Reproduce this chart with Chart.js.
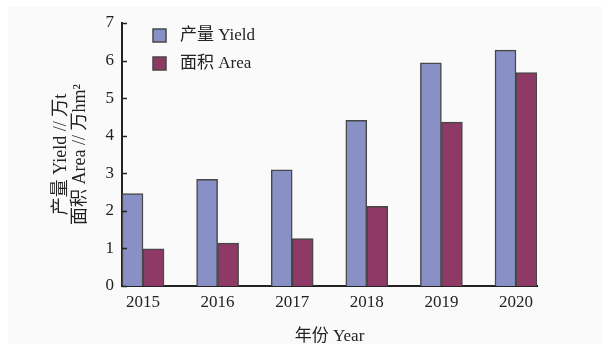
<!DOCTYPE html>
<html>
<head>
<meta charset="utf-8">
<script src="https://cdn.jsdelivr.net/npm/chart.js@4.4.1/dist/chart.umd.min.js"></script>
<style>
  html, body { margin: 0; padding: 0; background: #fff; }
  #wrap { position: relative; width: 608px; height: 344px; }
  #bg { position: absolute; left: 8px; top: 7px; width: 594px; height: 337px; background: #fafafa; }
  canvas { position: absolute; left: 0; top: 0; }
</style>
</head>
<body>
<div id="wrap">
  <div id="bg"></div>
  <canvas id="c" width="608" height="344"></canvas>
</div>
<script>
// dados
const years = [2015, 2016, 2017, 2018, 2019, 2020];
const yieldVals = [2.46, 2.84, 3.09, 4.41, 5.94, 6.28];
const areaVals = [0.99, 1.14, 1.26, 2.12, 4.36, 5.68];
const seriesLabels = ['产量 Yield', '面积 Area'];
const yTitle = ['产量 Yield // 万t', '面积 Area // 万hm²'];
const xTitle = '年份 Year';

const COLORS = {
  yield: '#8890c6',
  area: '#8e3966',
  edge: '#474747',
  axis: '#222',
  text: '#222',
};
const serif = '"Liberation Serif", "Noto Sans CJK SC", serif';

const toPoints = (vals) => vals.map((v, i) => ({ x: years[i], y: v }));

// legenda desenhada dentro da área do gráfico
const insideLegend = {
  id: 'insideLegend',
  afterDraw(chart) {
    const ctx = chart.ctx;
    ctx.save();
    ctx.font = '17px ' + serif;
    ctx.textBaseline = 'middle';
    chart.data.datasets.forEach((ds, i) => {
      const y = 29 + i * 28;
      ctx.fillStyle = ds.backgroundColor;
      ctx.fillRect(153, y, 13, 13);
      ctx.strokeStyle = COLORS.edge;
      ctx.lineWidth = 1.5;
      ctx.strokeRect(153, y, 13, 13);
      ctx.fillStyle = COLORS.text;
      ctx.fillText(ds.label, 180, y + 7);
    });
    ctx.restore();
  },
};

// marcas de tick viradas pra dentro no eixo y
const innerTicks = {
  id: 'innerTicks',
  afterDraw(chart) {
    const s = chart.scales.y;
    const ctx = chart.ctx;
    ctx.save();
    ctx.strokeStyle = COLORS.axis;
    ctx.lineWidth = 1.5;
    s.ticks.forEach(t => {
      const py = Math.round(s.getPixelForValue(t.value)) + 0.5;
      ctx.beginPath();
      ctx.moveTo(s.right, py);
      ctx.lineTo(s.right + 5, py);
      ctx.stroke();
    });
    ctx.restore();
  },
};

new Chart(document.getElementById('c'), {
  type: 'bar',
  data: {
    datasets: [
      {
        label: seriesLabels[0],
        data: toPoints(yieldVals),
        backgroundColor: COLORS.yield,
        borderColor: COLORS.edge,
        borderWidth: 1.5,
        barThickness: 21,
      },
      {
        label: seriesLabels[1],
        data: toPoints(areaVals),
        backgroundColor: COLORS.area,
        borderColor: COLORS.edge,
        borderWidth: 1.5,
        barThickness: 21,
      },
    ],
  },
  options: {
    responsive: false,
    animation: false,
    layout: { padding: { top: 23, right: 71, bottom: 0, left: 0 } },
    scales: {
      x: {
        type: 'linear',
        offset: false,
        min: 2014.7185,
        max: 2020.2815,
        afterFit: (s) => { s.height = 58; },
        afterBuildTicks: (s) => { s.ticks = years.map(v => ({ value: v })); },
        grid: { display: false, drawTicks: false },
        border: { color: COLORS.axis, width: 2 },
        ticks: {
          color: COLORS.text,
          font: { family: serif, size: 17 },
          padding: 6,
          callback: (v) => String(v),
        },
        title: {
          display: true,
          text: xTitle,
          color: COLORS.text,
          font: { family: serif, size: 17 },
          padding: { top: 0, bottom: -3 },
        },
      },
      y: {
        min: 0,
        max: 7,
        afterFit: (s) => { s.width = 122; },
        grid: { display: false, drawTicks: false },
        border: { color: COLORS.axis, width: 2 },
        ticks: {
          stepSize: 1,
          color: COLORS.text,
          font: { family: serif, size: 17 },
          padding: 8,
        },
        title: {
          display: true,
          text: yTitle,
          color: COLORS.text,
          font: { family: serif, size: 18, lineHeight: 1.05 },
          padding: { top: 52, bottom: 0 },
        },
      },
    },
    plugins: {
      legend: { display: false },
      tooltip: { enabled: false },
    },
  },
  plugins: [insideLegend, innerTicks],
});
</script>
</body>
</html>
